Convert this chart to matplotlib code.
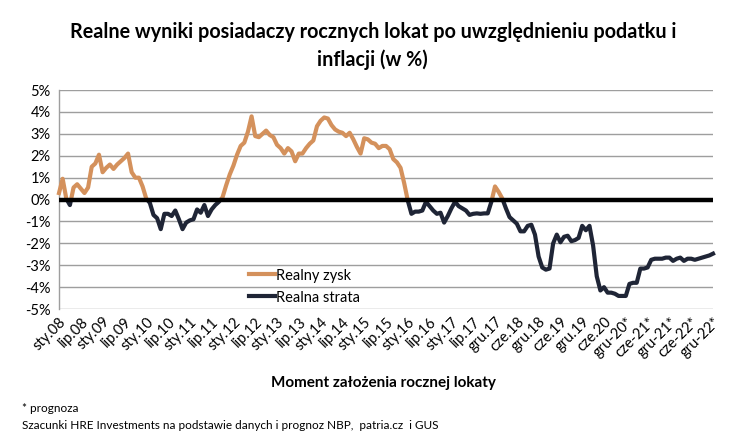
import numpy as np
import matplotlib
matplotlib.use("Agg")
import matplotlib.pyplot as plt
from matplotlib.patches import Rectangle

plt.rcParams["font.family"] = ["Lato", "DejaVu Sans"]

# miesięczne wyniki realne (w %), od sty.08 do gru-22*
values = [
    0.3, 0.95, 0.05, -0.25, 0.55, 0.7, 0.5, 0.3, 0.55, 1.5,
    1.65, 2.05, 1.25, 1.45, 1.6, 1.4, 1.6, 1.75, 1.9, 2.1,
    1.25, 1.0, 1.0, 0.6, 0.05, -0.15, -0.7, -0.85, -1.35, -0.65,
    -0.65, -0.75, -0.5, -0.9, -1.35, -1.05, -0.95, -0.9, -0.45, -0.6,
    -0.25, -0.75, -0.45, -0.25, -0.1, 0.1, 0.65, 1.15, 1.55, 2.05,
    2.45, 2.6, 3.1, 3.8, 2.9, 2.85, 3.0, 3.15, 2.95, 2.85,
    2.5, 2.35, 2.1, 2.35, 2.2, 1.75, 2.1, 2.1, 2.35, 2.55,
    2.7, 3.35, 3.6, 3.75, 3.7, 3.4, 3.2, 3.1, 3.05, 2.9,
    3.05, 2.75, 2.4, 2.1, 2.8, 2.75, 2.6, 2.55, 2.35, 2.45,
    2.45, 2.3, 1.85, 1.7, 1.45, 0.75, -0.05, -0.65, -0.55, -0.55,
    -0.5, -0.1, -0.3, -0.5, -0.65, -0.6, -1.05, -0.75, -0.4, -0.1,
    -0.3, -0.4, -0.5, -0.7, -0.65, -0.63, -0.65, -0.63, -0.63, -0.1,
    0.6, 0.35, 0.05, -0.4, -0.8, -0.95, -1.1, -1.45, -1.45, -1.2,
    -1.15, -1.6, -2.6, -3.1, -3.2, -3.15, -2.0, -1.6, -1.95, -1.7,
    -1.65, -1.9, -1.85, -1.75, -1.2, -1.4, -1.2, -2.1, -3.5, -4.15,
    -4.0, -4.25, -4.25, -4.3, -4.4, -4.4, -4.4, -3.85, -3.8, -3.8,
    -3.15, -3.15, -3.1, -2.75, -2.7, -2.7, -2.7, -2.65, -2.65, -2.8,
    -2.7, -2.65, -2.8, -2.7, -2.7, -2.75, -2.7, -2.65, -2.6, -2.55,
    -2.47,
]

tick_labels = [
    "sty.08", "lip.08", "sty.09", "lip.09", "sty.10", "lip.10", "sty.11",
    "lip.11", "sty.12", "lip.12", "sty.13", "lip.13", "sty.14", "lip.14",
    "sty.15", "lip.15", "sty.16", "lip.16", "sty.17", "lip.17", "gru.17",
    "cze.18", "gru.18", "cze.19", "gru.19", "cze.20", "gru-20*", "cze-21*",
    "gru-21*", "cze-22*", "gru-22*",
]

x = np.arange(len(values))
y = np.array(values)

fig = plt.figure(figsize=(7.34, 4.46), dpi=100)
ax = fig.add_axes([0.0804, 0.307, 0.891, 0.491])

orange = "#D4915C"
navy = "#1F2536"

# jedna linia, kolor zależny od znaku (przycinanie do półpłaszczyzn)
line_pos, = ax.plot(x, y, color=orange, lw=3.0, solid_joinstyle="round", label="Realny zysk", zorder=3)
line_neg, = ax.plot(x, y, color=navy, lw=3.0, solid_joinstyle="round", label="Realna strata", zorder=3)
line_pos.set_clip_path(Rectangle((-10, 0), 220, 20, transform=ax.transData))
line_neg.set_clip_path(Rectangle((-10, -20), 220, 20, transform=ax.transData))

ax.axhline(0, color="black", lw=3.2, zorder=4)

ax.set_xlim(0, len(values) - 1)
ax.set_ylim(-5, 5)
ax.set_yticks(range(-5, 6))
ax.set_yticklabels([f"{v}%" for v in range(-5, 6)], fontsize=10.5)
ax.set_xticks(range(0, len(values), 6))
ax.set_xticklabels(tick_labels, rotation=45, ha="right", rotation_mode="anchor", fontsize=10.5)
ax.tick_params(axis="both", length=0, pad=6)
ax.tick_params(axis="x", pad=4)

ax.grid(axis="y", color="#9E9E9E", lw=1.0, zorder=0)
for side in ["top", "right", "bottom"]:
    ax.spines[side].set_visible(False)
ax.spines["left"].set_color("#9E9E9E")
ax.spines["left"].set_linewidth(1.0)

ax.legend(loc="upper left", bbox_to_anchor=(0.27, 0.245), frameon=False, fontsize=10.5,
          handlelength=1.8, handletextpad=0.1, labelspacing=0.55)

fig.text(0.508, 0.95, "Realne wyniki posiadaczy rocznych lokat po uwzględnieniu podatku i\ninflacji (w %)",
         ha="center", va="top", fontsize=14.2, fontweight="bold", linespacing=1.4)
fig.text(0.523, 0.142, "Moment założenia rocznej lokaty", ha="center", va="center",
         fontsize=11, fontweight="bold")
fig.text(0.03, 0.085, "* prognoza", ha="left", va="center", fontsize=8.5)
fig.text(0.03, 0.047, "Szacunki HRE Investments na podstawie danych i prognoz NBP,  patria.cz  i GUS",
         ha="left", va="center", fontsize=8.5)

fig.savefig("out.png", dpi=100)
